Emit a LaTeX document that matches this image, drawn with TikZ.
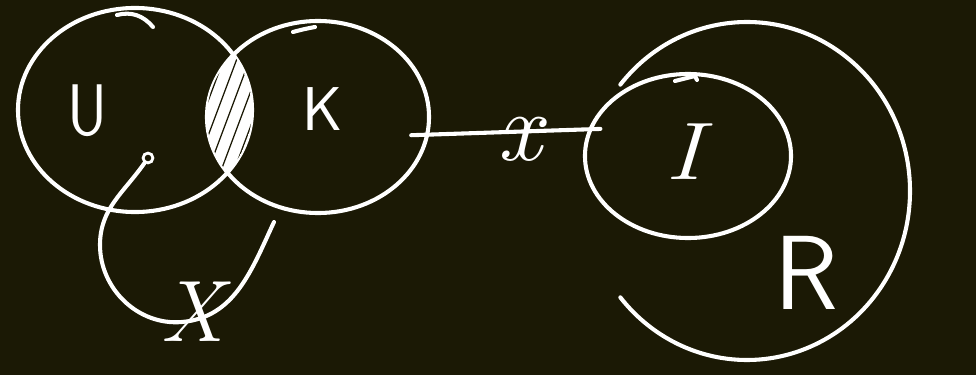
\documentclass[tikz,border=0pt]{standalone}
\usepackage{fontspec}
\usepackage{tikz}
\usetikzlibrary{shapes.geometric,positioning}
\definecolor{board}{RGB}{27,25,5}

\begin{document}
\begin{tikzpicture}[
      x=0.025cm, y=0.025cm,
      chalk/.style={draw=white, line width=2.9pt, line cap=round, line join=round},
      set/.style={chalk, ellipse, inner sep=0pt},
      letter/.style={text=white, inner sep=0pt, font=\sffamily\fontsize{#1}{#1}\selectfont},
      slanted/.style={text=white, inner sep=0pt, font=\rmfamily\itshape\fontsize{#1}{#1}\selectfont},
      dotmark/.style={draw=white, line width=2pt, circle, minimum size=7pt, inner sep=0pt}]
    \fill[board] (0,0) rectangle (976,-375);
    \useasboundingbox (0,0) rectangle (976,-375);

    % the two overlapping sets
    \node[set, minimum width=5.85cm, minimum height=5.1cm] (U) at (135,-110) {};
    \node[set, minimum width=5.55cm, minimum height=4.8cm] (K) at (318,-117) {};
    \begin{scope}
      \clip (U.center) ellipse [x radius=117, y radius=102];
      \clip (K.center) ellipse [x radius=111, y radius=96];
      \fill[white] (200,-40) rectangle (260,-200);
      \foreach \s in {158,171,...,250}
        \draw[board, line width=0.9pt] (\s,-200) -- ++(60,160);
    \end{scope}
    \draw[chalk] (117,-15) to[out=15,in=130] (153,-27);
    \draw[chalk] (293,-32) to[out=15,in=190] (315,-27);
    \node[letter=52pt, xscale=0.85] (uLabel) at (88,-111) {U};
    \node[letter=44pt] (kLabel) at (323,-109) {K};

    % point of U and its loop
    \node[dotmark] (p) at (148,-158) {};
    \coordinate (hook) at (274,-222);
    \draw[chalk] (p) to[out=235,in=90] (100,-245) to[out=-90,in=185] (182,-322)
      to[out=5,in=-115] (hook);
    \node[slanted=62pt] (xLabel) at (192,-312) {X};

    % I inside R
    \node[set, minimum width=5.15cm, minimum height=4.1cm] (I) at (688,-156) {};
    \draw[chalk] (675,-81) -- (695,-76) -- (697,-80);
    \node[slanted=58pt, xscale=1.2] (iLabel) at (684,-152) {I};
    \coordinate (Rc) at (747,-191);
    \draw[chalk] (Rc) ++(141:163 and 169)
      arc[start angle=141, end angle=-141, x radius=163, y radius=169];
    \node[letter=75pt] (rLabel) at (806,-273) {R};

    \draw[chalk, shorten <=-0.45cm, shorten >=-0.3cm] (K.-9) --
      node[slanted=70pt, pos=0.57, yshift=-0.2cm] (xMark) {x} (I.165);
  \end{tikzpicture}
\end{document}
